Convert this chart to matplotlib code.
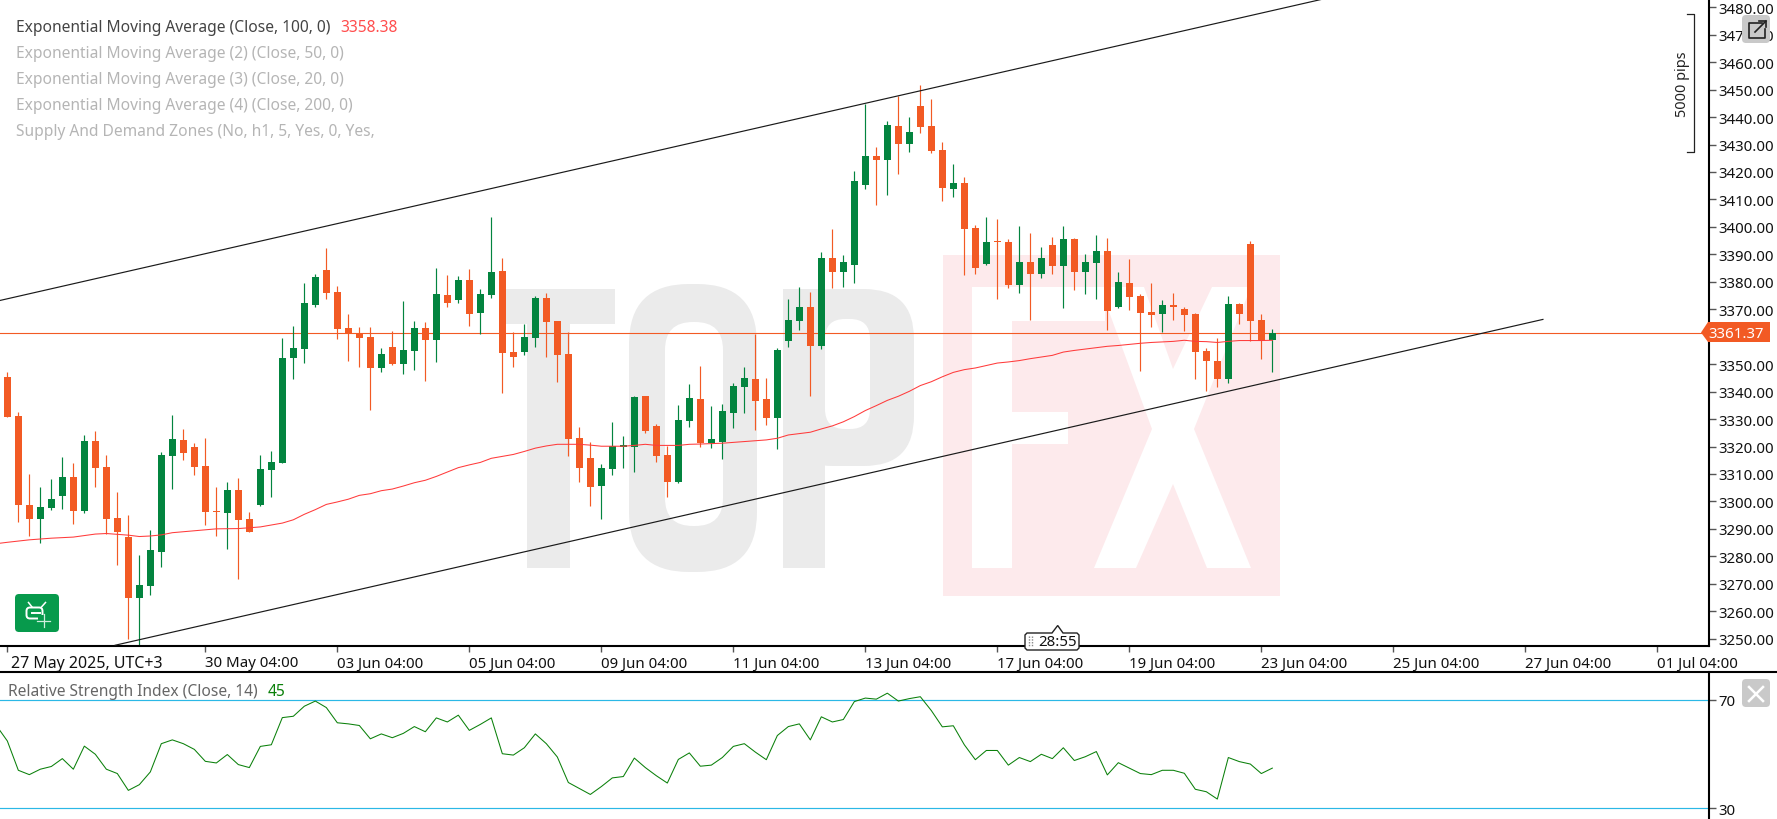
import numpy as np
import matplotlib
matplotlib.use("Agg")
import matplotlib.pyplot as plt
from matplotlib.patches import Polygon, Rectangle, FancyBboxPatch
from matplotlib.transforms import ScaledTranslation

plt.rcParams['font.family'] = ['Noto Sans', 'DejaVu Sans']

### candles, one entry per bar
opens = [3345.3,3331.1,3298.7,3293.6,3297.6,3301.9,3308.8,3296.6,3322.0,3312.5,
         3293.9,3287.0,3264.8,3269.1,3281.5,3316.5,3322.3,3319.9,3313.0,3296.6,
         3295.8,3304.2,3293.6,3298.7,3311.4,3314.0,3352.2,3355.4,3371.5,3384.3,
         3376.3,3363.1,3361.4,3359.9,3348.5,3356.2,3350.1,3354.8,3363.1,3358.8,
         3375.2,3373.4,3380.6,3368.6,3375.2,3383.9,3354.4,3354.4,3359.5,3374.1,
         3365.7,3353.7,3323.1,3315.8,3305.6,3311.8,3320.0,3319.8,3338.4,3327.5,
         3316.9,3307.1,3329.3,3337.3,3321.3,3321.6,3332.2,3341.7,3344.6,3337.3,
         3330.4,3358.4,3365.7,3370.8,3356.6,3388.7,3383.6,3386.1,3415.3,3425.8,
         3424.4,3436.8,3430.2,3444.1,3436.8,3428.0,3413.8,3416.0,3399.6,3386.5,
         3394.7,3394.5,3378.8,3387.2,3382.9,3393.4,3385.7,3395.6,3383.6,3386.9,
         3391.2,3370.8,3379.5,3374.8,3369.0,3368.3,3371.2,3370.1,3368.3,3354.8,
         3351.2,3344.6,3371.9,3393.8,3366.1,3358.8]
highs = [3347.3,3332.7,3310.0,3305.1,3308.2,3316.2,3314.0,3324.2,3325.7,3316.9,
         3303.5,3295.0,3280.5,3289.5,3318.0,3331.5,3326.3,3321.2,3323.1,3305.1,
         3307.1,3308.5,3296.1,3316.9,3318.3,3359.6,3363.9,3379.5,3383.0,3392.2,
         3378.4,3368.3,3363.6,3363.6,3355.9,3362.0,3373.1,3365.7,3365.4,3385.0,
         3382.5,3382.1,3384.7,3377.4,3403.6,3388.7,3361.6,3364.6,3374.8,3375.9,
         3365.7,3361.6,3327.1,3321.6,3313.6,3328.9,3323.8,3338.4,3338.4,3328.2,
         3320.3,3335.1,3342.8,3349.3,3334.7,3335.5,3343.1,3349.0,3361.0,3345.0,
         3355.9,3373.7,3378.1,3376.3,3390.9,3399.2,3389.8,3420.4,3444.8,3429.1,
         3438.6,3447.7,3440.0,3451.7,3446.6,3430.9,3422.9,3418.2,3400.7,3403.6,
         3402.9,3395.6,3400.3,3397.8,3392.7,3396.3,3400.3,3395.9,3390.1,3397.0,
         3395.9,3383.6,3388.3,3375.5,3379.5,3373.4,3375.9,3370.8,3368.6,3355.9,
         3359.5,3374.8,3372.3,3394.9,3368.3,3362.8]
lows = [3330.7,3292.4,3287.4,3284.9,3296.9,3297.2,3291.8,3295.8,3305.1,3288.3,
        3276.8,3249.9,3247.3,3265.9,3276.2,3304.5,3315.1,3309.6,3291.3,3287.4,
        3282.6,3271.7,3288.9,3298.2,3301.6,3314.0,3344.5,3350.4,3370.8,3373.7,
        3359.1,3351.1,3349.0,3333.4,3347.2,3349.6,3346.4,3347.9,3343.8,3350.8,
        3370.8,3372.3,3363.9,3361.0,3374.1,3339.5,3349.0,3353.3,3356.2,3352.6,
        3343.5,3316.5,3307.1,3298.3,3293.6,3309.6,3312.2,3310.7,3324.9,3314.3,
        3301.6,3306.7,3327.1,3319.8,3319.5,3315.4,3326.7,3332.2,3326.0,3327.8,
        3319.1,3356.2,3362.4,3338.4,3355.5,3377.7,3378.1,3379.5,3413.8,3408.0,
        3411.6,3419.3,3427.3,3434.2,3426.9,3409.4,3410.9,3382.5,3382.9,3386.1,
        3373.7,3377.7,3375.9,3366.1,3381.4,3382.9,3370.4,3377.0,3375.5,3373.7,
        3362.4,3370.4,3369.7,3347.5,3363.5,3361.6,3366.1,3362.1,3344.6,3340.2,
        3341.7,3343.1,3364.6,3358.4,3351.9,3347.2]
closes = [3330.7,3298.7,3293.6,3297.9,3300.8,3308.8,3296.6,3322.0,3312.2,3293.6,
          3288.9,3264.8,3269.6,3282.3,3316.9,3322.8,3317.6,3312.5,3296.1,3296.1,
          3304.2,3293.2,3288.9,3311.7,3314.3,3352.2,3355.9,3372.3,3381.8,3376.0,
          3362.8,3361.4,3359.6,3348.5,3353.7,3350.1,3355.1,3363.1,3358.8,3375.5,
          3372.3,3380.6,3368.3,3375.6,3383.6,3354.1,3352.6,3359.9,3374.1,3365.4,
          3353.3,3322.7,3312.2,3305.2,3312.2,3320.1,3320.1,3338.0,3325.6,3316.5,
          3307.1,3329.6,3337.7,3321.3,3322.7,3332.9,3342.0,3345.0,3336.6,3330.4,
          3355.2,3366.1,3370.8,3356.6,3388.7,3383.6,3387.2,3416.7,3425.8,3424.4,
          3437.1,3430.2,3434.6,3436.4,3427.6,3414.2,3416.0,3399.2,3385.0,3394.5,
          3394.5,3378.8,3387.2,3382.9,3388.7,3385.7,3395.6,3383.6,3387.2,3391.2,
          3369.4,3379.9,3374.5,3368.6,3367.9,3371.5,3371.0,3367.9,3354.4,3351.2,
          3344.6,3371.9,3368.3,3365.7,3358.4,3361.37]

### EMA 100, bar number and value
ema_bar = [-1,0,2,4,6,8,9,11,12,13,14,15,17,19,21,23,25,26,27,28,29,30,31,32,33,34,35,36,37,38,39,40,
           41,42,43,44,45,46,47,48,49,50,52,53,54,56,57,58,59,61,62,63,65,66,67,68,69,70,71,72,73,74,
           75,76,77,78,79,80,81,82,83,84,85,86,87,88,89,90,91,92,93,94,95,96,97,98,99,100,101,102,103,
           104,105,106,107,108,109,110,111,112,113,114,115]
ema_val = [3284.6,3285.1,3286.0,3286.6,3287.0,3288.1,3288.3,3287.7,3287.2,3287.4,3287.8,3288.6,3289.3,
           3290.0,3290.1,3290.7,3292.1,3293.3,3295.3,3297.0,3298.9,3299.8,3300.8,3302.2,3302.8,3303.9,
           3304.5,3305.6,3306.8,3307.7,3309.1,3310.7,3312.3,3313.3,3314.2,3315.7,3316.4,3317.1,3318.2,
           3319.4,3320.2,3320.8,3320.8,3320.5,3320.1,3320.1,3320.4,3320.8,3320.4,3320.4,3320.8,3320.9,
           3321.2,3321.5,3321.8,3322.1,3322.4,3323.0,3324.2,3324.7,3325.2,3326.4,3327.5,3329.0,3330.9,
           3333.1,3334.9,3336.8,3338.3,3340.1,3342.2,3343.6,3345.4,3347.0,3348.0,3348.6,3349.5,3350.4,
           3350.8,3351.3,3352.0,3352.6,3353.2,3354.4,3355.0,3355.5,3356.0,3356.5,3356.8,3357.2,3357.6,
           3357.9,3358.1,3358.3,3358.7,3358.3,3358.2,3357.9,3358.3,3358.6,3358.6,3358.6,3358.7]

### RSI 14 starting from the bar before the first one
rsi = [60.5,54.8,44.0,42.4,44.4,45.4,48.3,44.4,52.9,49.9,44.4,42.8,36.6,38.7,43.4,53.8,55.2,53.8,51.7,
       47.3,46.7,49.8,46.1,45.0,52.8,53.4,63.4,63.9,67.6,69.5,67.1,61.5,61.1,60.5,55.6,57.4,56.0,57.6,
       60.1,58.2,63.3,61.8,64.3,58.7,60.9,63.3,50.1,49.6,52.3,57.4,53.8,48.9,39.5,37.3,35.1,38.0,41.2,
       41.7,48.5,45.0,42.0,39.3,48.0,50.4,45.5,45.9,48.7,52.8,53.8,50.7,47.9,56.8,60.1,61.1,55.2,63.7,
       61.8,62.7,69.3,70.6,70.2,72.4,69.5,70.4,71.1,66.0,60.0,60.4,53.4,47.9,51.3,51.3,45.9,48.7,47.2,
       49.9,48.3,52.3,47.6,49.0,50.9,42.3,46.8,44.8,42.8,42.4,44.0,44.0,42.9,37.0,36.1,33.4,48.7,47.2,
       46.3,42.8,44.8]

### channel lines (bar number, price)
upper_bar = [-0.67, 119.6]
upper_val = [3373.2, 3483.0]
lower_bar = [9.8, 139.6]
lower_val = [3247.6, 3366.3]
last_price = 3361.37

price_ticks = np.arange(3250, 3481, 10)
time_bars = [0, 18, 30, 42, 54, 66, 78, 90, 102, 114, 126, 138, 150]
time_labels = ["27 May 2025, UTC+3", "30 May 04:00", "03 Jun 04:00", "05 Jun 04:00", "09 Jun 04:00",
               "11 Jun 04:00", "13 Jun 04:00", "17 Jun 04:00", "19 Jun 04:00", "23 Jun 04:00",
               "25 Jun 04:00", "27 Jun 04:00", "01 Jul 04:00"]
legend_names = ["Exponential Moving Average (2) (Close, 50, 0)", "Exponential Moving Average (3) (Close, 20, 0)",
                "Exponential Moving Average (4) (Close, 200, 0)", "Supply And Demand Zones (No, h1, 5, Yes, 0, Yes,"]

GREEN = "#03843f"
ORANGE = "#f25a24"
W, H = 1777, 820
AXIS_X, MAIN_B, RSI_T = 1709, 646.7, 672.7
FS = 10.8    # axis labels
LS = 11.2    # legend lines

fig = plt.figure(figsize=(W/100, H/100), dpi=100)

### watermark goes under everything, in pixels
bg = fig.add_axes([0, 0, 1, 1], zorder=0)
bg.set_xlim(0, W); bg.set_ylim(H, 0); bg.axis("off")
GREY, PINK = "#ebebeb", "#fdeaec"
bg.add_patch(Polygon([(501,290),(615,290),(615,325),(570,325),(570,569),(527,569),(527,325),(501,325)], color=GREY, lw=0))
bg.add_patch(FancyBboxPatch((629+60,285+60), 128-120, 288-120, boxstyle="round,pad=60,rounding_size=60", color=GREY, lw=0))
bg.add_patch(FancyBboxPatch((665+28,323+28), 58-56, 204-56, boxstyle="round,pad=28,rounding_size=28", color="white", lw=0))
bg.add_patch(Rectangle((783,290), 42, 279, color=GREY, lw=0))
bg.add_patch(FancyBboxPatch((783+50,290+50), 131-100, 177-100, boxstyle="round,pad=50,rounding_size=50", color=GREY, lw=0))
bg.add_patch(FancyBboxPatch((825+20,320+20), 45-40, 110-40, boxstyle="round,pad=20,rounding_size=20", color="white", lw=0))
bg.add_patch(Rectangle((943,256), 337, 341, color=PINK, lw=0))
bg.add_patch(Polygon([(972,288),(1105,288),(1105,322),(1012,322),(1012,413),(1068,413),(1068,445),(1012,445),(1012,569),(972,569)], color="white", lw=0))
bg.add_patch(Polygon([(1100,288),(1144,288),(1173,370),(1212,288),(1251,288),(1194,430),(1251,569),(1207,569),(1173,485),(1136,569),(1094,569),(1152,430)], color="white", lw=0))

### price panel
ax = fig.add_axes([0, 1-MAIN_B/H, AXIS_X/W, MAIN_B/H], zorder=1)
ax.patch.set_alpha(0)
ax.set_xlim((0-7.33)/11, (AXIS_X-7.33)/11)
ax.set_ylim(3480-(MAIN_B-8.3)/2.745, 3480+8.3/2.745)

bars = np.arange(len(opens))
opens = np.array(opens); closes = np.array(closes)
colors = [GREEN if c > o else ORANGE for o, c in zip(opens, closes)]
ax.axhline(last_price, color=ORANGE, lw=0.8, zorder=1)
ax.vlines(bars, lows, highs, colors=colors, lw=0.85, zorder=2)
bottoms = np.minimum(opens, closes)
heights = np.maximum(np.abs(closes-opens), 0.4)
ax.bar(bars, heights, bottom=bottoms, width=0.64, color=colors, lw=0, zorder=3)
ax.plot(ema_bar, ema_val, color="#ff3b3b", lw=0.75, zorder=4)
ax.plot(upper_bar, upper_val, color="#1a1a1a", lw=0.85, zorder=5)
ax.plot(lower_bar, lower_val, color="#1a1a1a", lw=0.85, zorder=5)

for s in ["top", "left"]:
    ax.spines[s].set_visible(False)
ax.spines["right"].set_linewidth(1.5)
ax.spines["bottom"].set_linewidth(1.5)
ax.yaxis.tick_right()
ax.set_yticks(price_ticks)
# the 3360 label sits under the last price tag
ax.set_yticklabels(["" if p == 3360 else "%.2f" % p for p in price_ticks], fontsize=FS, color="#111111")
ax.tick_params(axis="y", length=5, width=1, color="#555555", pad=2)
ax.set_xticks(time_bars)
ax.set_xticklabels(time_labels, fontsize=FS, ha="left", color="#111111")
ax.tick_params(axis="x", length=4, width=1, color="#555555", pad=3)
first = ax.get_xticklabels()[0]
first.set_fontsize(11.5)
first.set_transform(first.get_transform() + ScaledTranslation(3.5/100, 0, fig.dpi_scale_trans))

### RSI panel
ax2 = fig.add_axes([0, 0, AXIS_X/W, (H-RSI_T)/H], zorder=1)
ax2.patch.set_alpha(0)
ax2.set_xlim(ax.get_xlim())
ax2.set_ylim(30-(H-809.3)/2.715, 70+(700.7-RSI_T)/2.715)
ax2.axhline(70, color="#2bb8e6", lw=0.85)
ax2.axhline(30, color="#2bb8e6", lw=0.85)
ax2.plot(np.arange(-1, len(rsi)-1), rsi, color="#0a800a", lw=0.75)
for s in ["top", "left", "bottom"]:
    ax2.spines[s].set_visible(False)
ax2.spines["right"].set_linewidth(1.5)
ax2.yaxis.tick_right()
ax2.set_xticks([])
ax2.set_yticks([30, 70])
ax2.set_yticklabels(["30", "70"], fontsize=FS, color="#111111")
ax2.tick_params(axis="y", length=5, width=1, color="#555555", pad=2)

### everything drawn on top of the chart, in pixels
ui = fig.add_axes([0, 0, 1, 1], zorder=5)
ui.set_xlim(0, W); ui.set_ylim(H, 0); ui.axis("off")
ui.plot([0, W], [RSI_T, RSI_T], color="black", lw=1.5)

ui.text(15.5, 27.5, "Exponential Moving Average (Close, 100, 0)", fontsize=LS, color="#444444", va="center")
ui.text(340.5, 27.5, "3358.38", fontsize=LS, color="#ff4d4d", va="center")
for i, name in enumerate(legend_names):
    ui.text(15.5, 53.5+26*i, name, fontsize=LS, color="#b5b5b5", va="center")
ui.text(8, 692.5, "Relative Strength Index (Close, 14)", fontsize=LS, color="#666666", va="center")
ui.text(268, 692.5, "45", fontsize=LS, color="#0a800a", va="center")

# last price tag
ui.add_patch(Polygon([(1701,333.5),(1708,323),(1770,323),(1770,343),(1708,343)], color=ORANGE, lw=0))
ui.text(1736, 334.5, "3361.37", fontsize=FS, color="white", ha="center", va="center")

# 5000 pips bracket
ui.plot([1687,1694,1694,1687], [15.3,15.3,153.3,153.3], color="#222222", lw=0.9)
ui.text(1683, 84, "5000 pips", fontsize=FS-0.4, color="#222222", rotation=90, ha="center", va="center")

# pop out button
ui.add_patch(FancyBboxPatch((1745,19), 22, 22, boxstyle="round,pad=3,rounding_size=4", color="#c9c9c9", lw=0))
ui.plot([1762,1749,1749,1765,1765], [24,24,39,39,30], color="#222222", lw=1.2)
ui.plot([1755,1766], [33,22], color="#222222", lw=1.2)
ui.plot([1759,1766,1766], [22,22,28], color="#222222", lw=1.2)

# close button
ui.add_patch(FancyBboxPatch((1745,683), 22, 22, boxstyle="round,pad=3,rounding_size=4", color="#c9c9c9", lw=0))
ui.plot([1749,1763], [688,702], color="white", lw=1.8)
ui.plot([1749,1763], [702,688], color="white", lw=1.8)

# robot button
ui.add_patch(FancyBboxPatch((18,598), 38, 32, boxstyle="round,pad=3,rounding_size=4", color="#079a4c", lw=0))
ui.add_patch(FancyBboxPatch((29,611), 11, 6, boxstyle="round,pad=2.5,rounding_size=3.5", fc="none", ec="white", lw=1.4))
ui.plot([32,28.5],[608,603.5], color="white", lw=1.1)
ui.plot([41.5,45.5],[608,603.5], color="white", lw=1.1)
ui.plot([32,34.5],[614,614], color="white", lw=1.4)
ui.plot([37,39.5],[614,614], color="white", lw=1.4)
ui.add_patch(Rectangle((38,616), 10, 10, color="#079a4c", lw=0))
ui.plot([37,50],[621.5,621.5], color="#cfeedd", lw=0.9)
ui.plot([43.5,43.5],[615,628], color="#cfeedd", lw=0.9)

# candle countdown
ui.add_patch(Polygon([(1027,634),(1052,634),(1057.7,626.5),(1063,634),(1077,634),(1079,636),(1079,649),(1077,651),(1027,651),(1025,649),(1025,636)],
                     fc="white", ec="#222222", lw=1.0))
ui.text(1058, 643, "28:55", fontsize=FS, color="#111111", ha="center", va="center")
for gx in [1029, 1031.5]:
    ui.plot([gx, gx], [637, 648], color="#888888", lw=1.0, ls=(0, (1, 1)))

fig.savefig("out.png", dpi=100)
